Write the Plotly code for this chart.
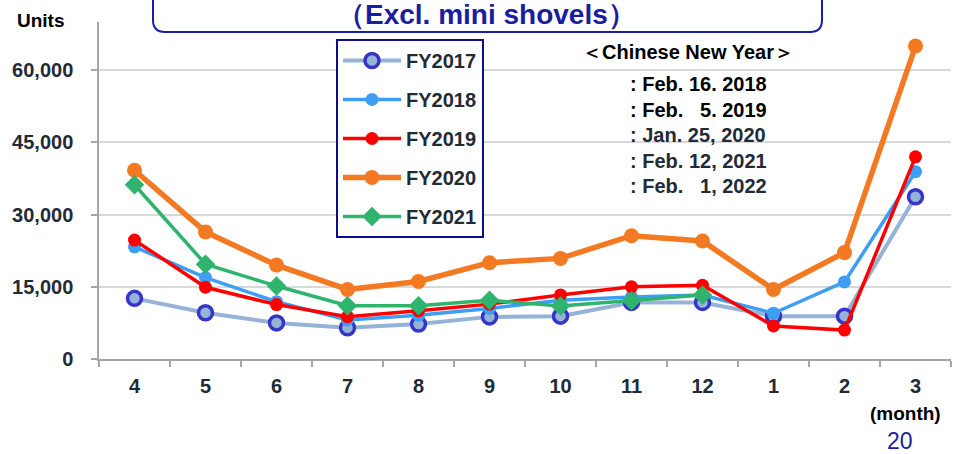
import plotly.graph_objects as go

months = ["4", "5", "6", "7", "8", "9", "10", "11", "12", "1", "2", "3"]
fy2017 = [12600, 9600, 7500, 6500, 7250, 8750, 8900, 11750, 11750, 8900, 8900, 33700]
fy2018 = [23300, 16900, 11900, 8100, 9100, 10500, 12200, 12900, 13300, 9500, 16000, 38900]
fy2019 = [24700, 14900, 11300, 8800, 10000, 11400, 13300, 15000, 15300, 6850, 6000, 42000]
fy2020 = [39200, 26400, 19500, 14450, 16100, 20000, 20900, 25600, 24500, 14450, 22100, 65000]
fy2021 = [36200, 19700, 15150, 11050, 11050, 12200, 11000, 12100, 13300]
y_ticks = [0, 15000, 30000, 45000, 60000]
cny_dates = [": Feb. 16. 2018", ": Feb. \u20075. 2019", ": Jan. 25, 2020",
             ": Feb. 12, 2021", ": Feb. \u20071, 2022"]

W, H = 953, 454
L, R, T, B = 99, 2, 22, 95
PW, PH = W - L - R, H - T - B

def px(x):
    return (x - L) / PW

def py(y):
    return (H - B - y) / PH

FONT = "Liberation Sans, Arial, sans-serif"
TXT = "#222a35"
NAVY = "#1c1c9e"

fig = go.Figure()

fig.add_trace(go.Scatter(
    x=months, y=fy2017, name="FY2017", mode="lines+markers", legendgroup="a",
    line=dict(color="#95b3d7", width=4),
    marker=dict(symbol="circle", size=14, color="#95b3d7",
                line=dict(color="#3535c8", width=3.5))))
fig.add_trace(go.Scatter(
    x=months, y=fy2018, name="FY2018", mode="lines+markers", legendgroup="b",
    line=dict(color="#3d9ef5", width=3.5),
    marker=dict(symbol="circle", size=13, color="#3d9ef5")))
fig.add_trace(go.Scatter(
    x=months, y=fy2019, name="FY2019", mode="lines+markers", legendgroup="c",
    line=dict(color="#ff0000", width=3.5),
    marker=dict(symbol="circle", size=13, color="#ff0000")))
fig.add_trace(go.Scatter(
    x=months, y=fy2020, name="FY2020", mode="lines+markers", legendgroup="d",
    line=dict(color="#f37a22", width=5.5),
    marker=dict(symbol="circle", size=15, color="#f37a22")))
fig.add_trace(go.Scatter(
    x=months[:len(fy2021)], y=fy2021, name="FY2021", mode="lines+markers", legendgroup="e",
    line=dict(color="#2fb46e", width=3.5),
    marker=dict(symbol="diamond", size=15, color="#2fb46e")))

# title box with rounded bottom corners
x0, x1, yb, yt, r = px(153), px(822), py(32), py(-10), 12
rx, ry = r / PW, r / PH
path = (f"M{x0},{yt} L{x0},{yb + ry} Q{x0},{yb} {x0 + rx},{yb} "
        f"L{x1 - rx},{yb} Q{x1},{yb} {x1},{yb + ry} L{x1},{yt}")
fig.add_shape(type="path", path=path, xref="paper", yref="paper",
              line=dict(color=NAVY, width=2), fillcolor="white", layer="above")

ann = []
ann.append(dict(text="（Excl. mini shovels）", x=px(486), y=py(14), xref="paper", yref="paper",
                showarrow=False, xanchor="center", yanchor="middle",
                font=dict(family=FONT, size=28, color=NAVY, weight="bold")))
ann.append(dict(text="Units", x=px(41), y=py(20), xref="paper", yref="paper",
                showarrow=False, xanchor="center", yanchor="middle",
                font=dict(family=FONT, size=19, color="#000000", weight="bold")))
ann.append(dict(text="(month)", x=px(905), y=py(413), xref="paper", yref="paper",
                showarrow=False, xanchor="center", yanchor="middle",
                font=dict(family=FONT, size=19, color="#000000", weight="bold")))
ann.append(dict(text="20", x=px(900), y=py(441), xref="paper", yref="paper",
                showarrow=False, xanchor="center", yanchor="middle",
                font=dict(family=FONT, size=23, color=NAVY)))
ann.append(dict(text="＜Chinese New Year＞", x=px(688), y=py(52), xref="paper", yref="paper",
                showarrow=False, xanchor="center", yanchor="middle",
                font=dict(family=FONT, size=20, color="#000000", weight="bold")))
for i, d in enumerate(cny_dates):
    ann.append(dict(text=d, x=px(628), y=py(84 + 25.5 * i), xref="paper", yref="paper",
                    showarrow=False, xanchor="left", yanchor="middle",
                    font=dict(family=FONT, size=20, color="#000000" if i < 2 else TXT,
                              weight="bold")))

fig.update_layout(
    width=W, height=H,
    margin=dict(l=L, r=R, t=T, b=B),
    paper_bgcolor="white", plot_bgcolor="white",
    font=dict(family=FONT, color=TXT),
    annotations=ann,
    showlegend=True,
    legend=dict(x=px(336), y=py(39), xanchor="left", yanchor="top",
                bordercolor="#0d0d8c", borderwidth=2, bgcolor="white",
                font=dict(family=FONT, size=20, color=TXT, weight="bold"),
                tracegroupgap=10, itemwidth=58),
    xaxis=dict(type="category", range=[-0.5, 11.5], showgrid=False,
               showline=True, linecolor="#a6a6a6", linewidth=1.5,
               ticks="outside", tickson="boundaries", ticklen=6, tickcolor="#a6a6a6",
               tickwidth=1.5, ticklabelstandoff=8,
               tickfont=dict(family=FONT, size=20, color=TXT, weight="bold")),
    yaxis=dict(range=[0, 70000], tickvals=y_ticks, tickformat=",d",
               showgrid=True, gridcolor="#d9d9d9", gridwidth=1.5,
               zeroline=False, showline=True, linecolor="#a6a6a6", linewidth=1.5,
               ticks="outside", ticklen=6, tickcolor="#a6a6a6", tickwidth=1.5,
               ticklabelstandoff=14,
               tickfont=dict(family=FONT, size=20, color=TXT, weight="bold")),
)

fig.write_html("out.html", config={"displayModeBar": False},
               post_script="document.body.style.margin='0';document.body.style.overflow='hidden';")
